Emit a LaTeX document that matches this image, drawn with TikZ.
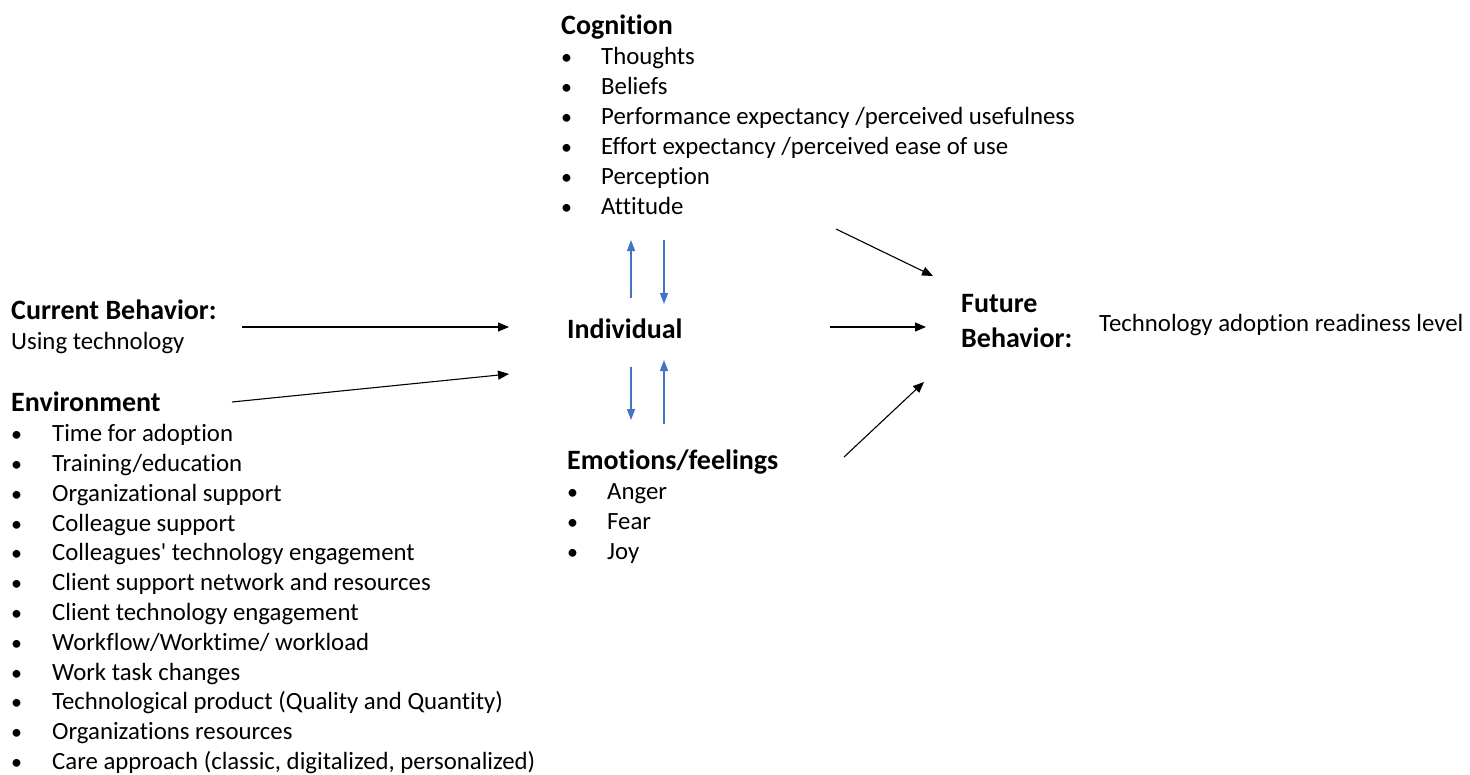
\documentclass[tikz,border=0pt]{standalone}
\usepackage{fontspec}
\setmainfont[Ligatures=NoCommon]{Carlito}
\usepackage{xcolor}
\usetikzlibrary{positioning,arrows.meta,calc}
\definecolor{linkblue}{RGB}{68,114,196}
\newcommand{\itm}[2][40pt]{\makebox[#1][l]{\fontsize{22}{22}\selectfont\textbullet}#2}
\newcommand{\hd}[1]{{\fontsize{28}{30}\selectfont\bfseries #1}}

\begin{document}
\begin{tikzpicture}[x=1pt,y=-1pt,
  txt/.style={inner sep=0pt, align=left, anchor=north west, font=\fontsize{24.8}{30}\selectfont},
  head/.style={txt, font=\fontsize{28}{35}\selectfont\bfseries},
  arr/.style={-{Triangle[length=11pt,width=9pt]}, line width=1.1pt, black},
  barr/.style={-{Triangle[length=11pt,width=8pt]}, line width=1.2pt, linkblue}
]
\useasboundingbox (0,0) rectangle (1470,774);
% text blocks
\node[txt] (cog) at (561,15) {\hd{Cognition}\\
  \itm{Thoughts}\\ \itm{Beliefs}\\
  \itm{Performance expectancy /perceived usefulness}\\
  \itm{Effort expectancy /perceived ease of use}\\
  \itm{Perception}\\ \itm{Attitude}};
\node[txt] (cur) at (11,300) {\hd{Current Behavior:}\\ Using technology};
\node[txt, font=\fontsize{24.8}{29.8}\selectfont] (env) at (11,392) {\hd{Environment}\\
  \itm[41pt]{Time for adoption}\\ \itm[41pt]{Training/education}\\
  \itm[41pt]{Organizational support}\\ \itm[41pt]{Colleague support}\\
  \itm[41pt]{Colleagues\textquotesingle{} technology engagement}\\
  \itm[41pt]{Client support network and resources}\\
  \itm[41pt]{Client technology engagement}\\
  \itm[41pt]{Workflow/Worktime/ workload}\\ \itm[41pt]{Work task changes}\\
  \itm[41pt]{Technological product (Quality and Quantity)}\\
  \itm[41pt]{Organizations resources}\\
  \itm[41pt]{Care approach (classic, digitalized, personalized)}};
\node[head] (ind) at (567,319) {Individual};
\node[txt] (emo) at (567,450) {\hd{Emotions/feelings}\\
  \itm{Anger}\\ \itm{Fear}\\ \itm{Joy}};
\node[head] (fut) at (961,294) {Future\\ Behavior:};
\node[txt] (lvl) at (1099,314) {Technology adoption readiness level};
% arrow ends
\coordinate (cur out) at (242,327);
\coordinate (ind in1) at (509,327);
\coordinate (env out) at (232,402);
\coordinate (ind in2) at (509,374);
\coordinate (ind out) at (830,327);
\coordinate (fut in1) at (926,327);
\coordinate (cog out) at (836,229);
\coordinate (fut in2) at (933,276);
\coordinate (emo out) at (844,457);
\coordinate (fut in3) at (924,382);
\coordinate (ind up1) at (631,298);
\coordinate (cog in) at (631,240);
\coordinate (cog dn) at (664,240);
\coordinate (ind up2) at (664,304);
\coordinate (ind dn1) at (631,367);
\coordinate (emo in) at (631,420);
\coordinate (emo up) at (664,424);
\coordinate (ind dn2) at (664,360);
\draw[arr] (cur out) -- (ind in1);
\draw[arr] (env out) -- (ind in2);
\draw[arr] (ind out) -- (fut in1);
\draw[arr] (cog out) -- (fut in2);
\draw[arr] (emo out) -- (fut in3);
% individual <-> cognition / emotions
\draw[barr] (ind up1) -- (cog in);
\draw[barr] (cog dn) -- (ind up2);
\draw[barr] (ind dn1) -- (emo in);
\draw[barr] (emo up) -- (ind dn2);
\end{tikzpicture}
\end{document}
